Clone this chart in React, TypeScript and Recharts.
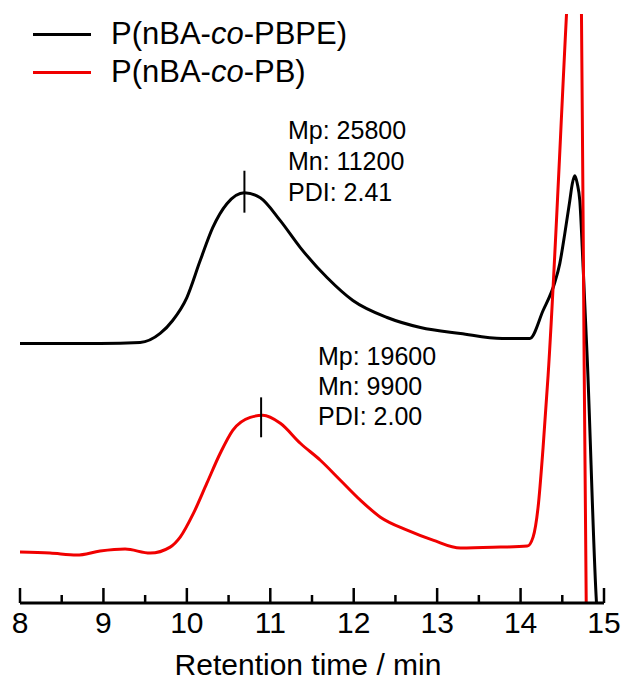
import { LineChart, Line, XAxis, YAxis, ReferenceLine, Label } from "recharts";

// retention time (min) and detector signal (arb. units)
const blackTime = [8.0, 8.96, 9.44, 9.68, 9.83, 10.0, 10.16, 10.31, 10.48, 10.69, 10.88, 11.12, 11.36, 11.68, 11.99, 12.4, 12.8, 13.28, 13.78, 14.11, 14.27, 14.41, 14.47, 14.53, 14.59, 14.62, 14.65, 14.68, 14.71, 14.75, 14.8, 14.91, 14.93];
const blackSignal = [260, 260, 261, 270, 283, 306, 343, 376, 400, 411, 406, 383, 356, 326, 303, 286, 276, 270, 265, 265, 293, 321, 340, 370, 403, 420, 428, 420, 403, 336, 243, 0, -25];

const redTime = [8.0, 8.36, 8.68, 8.96, 9.26, 9.56, 9.8, 9.92, 10.08, 10.24, 10.4, 10.55, 10.76, 10.91, 11.12, 11.36, 11.6, 11.84, 12.08, 12.32, 12.64, 12.95, 13.28, 13.76, 14.08, 14.15, 14.21, 14.27, 14.33, 14.55, 14.63, 14.7, 14.72, 14.75, 14.787, 14.8];
const redSignal = [51, 50, 48, 52, 54, 50, 56, 66, 90, 120, 150, 173, 186, 188, 180, 160, 143, 123, 103, 86, 73, 63, 55, 56, 57, 66, 96, 156, 228, 589, 720, 835, 690, 380, 0, -30];

const xTicks = [8, 8.5, 9, 9.5, 10, 10.5, 11, 11.5, 12, 12.5, 13, 13.5, 14, 14.5, 15];

const blackPeak = { t: 10.69, low: 391, high: 433 };
const redPeak = { t: 10.89, low: 166, high: 206 };

const blackStats = ["Mp: 25800", "Mn: 11200", "PDI: 2.41"];
const redStats = ["Mp: 19600", "Mn: 9900", "PDI: 2.00"];

const FONT = '"Liberation Sans", Arial, sans-serif';
const RED = "#f00000";

const blackData = blackTime.map((t, i) => ({ t, v: blackSignal[i] }));
const redData = redTime.map((t, i) => ({ t, v: redSignal[i] }));

function TimeTick(props: any) {
  const { x, y, payload } = props;
  const major = Number.isInteger(payload.value);
  return (
    <g>
      <line x1={x} x2={x} y1={y} y2={y - (major ? 15 : 8)} stroke="#000" strokeWidth={2.5} />
      {major && (
        <text x={x} y={y + 30} textAnchor="middle" fontSize={30} fontFamily={FONT} fill="#000">
          {payload.value}
        </text>
      )}
    </g>
  );
}

export default function App() {
  return (
    <div style={{ position: "absolute", left: 0, top: 0, width: 624, height: 680, background: "#fff", fontFamily: FONT }}>
      <LineChart width={624} height={680} margin={{ top: 14, right: 20, bottom: 5, left: 20 }}>
        <XAxis
          dataKey="t"
          type="number"
          domain={[8, 15]}
          ticks={xTicks}
          interval={0}
          height={72}
          tickLine={false}
          tickSize={0}
          tickMargin={0}
          axisLine={{ stroke: "#000", strokeWidth: 3 }}
          tick={<TimeTick />}
        >
          <Label value="Retention time / min" position="insideBottom" offset={0} dx={-4} fontSize={30} fontFamily={FONT} fill="#000" />
        </XAxis>
        <YAxis hide type="number" domain={[0, 590]} allowDataOverflow />
        <Line data={blackData} dataKey="v" type="monotone" stroke="#000" strokeWidth={3} dot={false} activeDot={false} isAnimationActive={false} />
        <Line data={redData} dataKey="v" type="monotone" stroke={RED} strokeWidth={3} dot={false} activeDot={false} isAnimationActive={false} />
        <ReferenceLine segment={[{ x: blackPeak.t, y: blackPeak.low }, { x: blackPeak.t, y: blackPeak.high }]} stroke="#000" strokeWidth={2} />
        <ReferenceLine segment={[{ x: redPeak.t, y: redPeak.low }, { x: redPeak.t, y: redPeak.high }]} stroke="#000" strokeWidth={2} />
      </LineChart>

      <div style={{ position: "absolute", left: 33, top: 15, fontSize: 31, lineHeight: "38px", color: "#000" }}>
        <div style={{ display: "flex", alignItems: "center" }}>
          <span style={{ display: "inline-block", width: 58, height: 3, background: "#000", marginRight: 20 }} />
          <span>P(nBA-<i>co</i>-PBPE)</span>
        </div>
        <div style={{ display: "flex", alignItems: "center" }}>
          <span style={{ display: "inline-block", width: 58, height: 3, background: RED, marginRight: 20 }} />
          <span>P(nBA-<i>co</i>-PB)</span>
        </div>
      </div>

      <div style={{ position: "absolute", left: 288, top: 115, fontSize: 25, lineHeight: "31px", color: "#000" }}>
        {blackStats.map((s) => (
          <div key={s}>{s}</div>
        ))}
      </div>
      <div style={{ position: "absolute", left: 318, top: 341, fontSize: 25, lineHeight: "30px", color: "#000" }}>
        {redStats.map((s) => (
          <div key={s}>{s}</div>
        ))}
      </div>
    </div>
  );
}
